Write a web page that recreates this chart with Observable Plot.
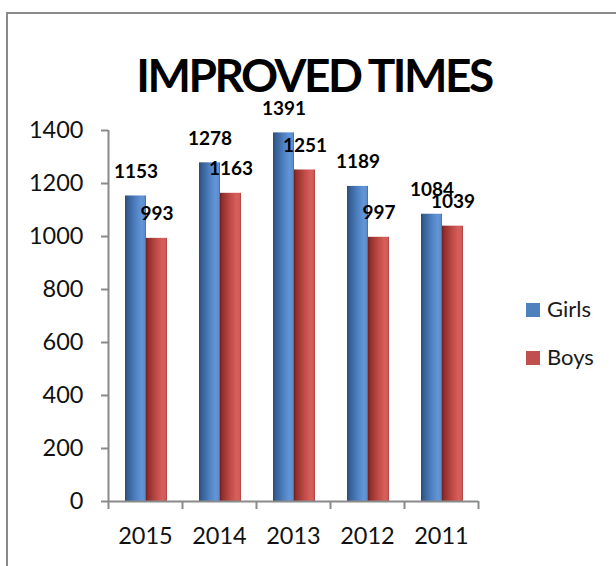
<!DOCTYPE html>
<html>
<head>
<meta charset="utf-8">
<script src="https://cdn.jsdelivr.net/npm/d3@7"></script>
<script src="https://cdn.jsdelivr.net/npm/@observablehq/plot@0.6"></script>
<style>
  html, body { margin: 0; padding: 0; background: #fff; width: 616px; height: 566px; overflow: hidden; }
  #frame { position: absolute; left: 6px; top: 12px; width: 700px; height: 700px; border-left: 2px solid #8a8a8a; border-top: 2px solid #8a8a8a; }
  #title { position: absolute; left: 0; width: 628px; top: 52px; text-align: center; font-family: Lato, sans-serif; font-weight: 700; font-size: 46px; line-height: 46px; color: #000; letter-spacing: -2.5px; white-space: nowrap; }
  #chart { position: absolute; left: 0; top: 95px; }
  .leg { position: absolute; left: 526px; font-family: Lato, sans-serif; font-size: 22px; line-height: 22px; color: #1a1a1a; white-space: nowrap; }
  .leg .sw { position: absolute; left: 0; width: 14px; height: 14px; }
  .leg .lb { position: absolute; left: 21px; }
  svg [aria-label="y-axis tick"], svg [aria-label="x-axis tick"] { stroke: #8a8a8a; stroke-width: 2; }
</style>
</head>
<body>
<div id="frame"></div>
<div id="title">IMPROVED TIMES</div>
<div id="chart"></div>
<div id="legend"></div>
<script>
const years = ["2015", "2014", "2013", "2012", "2011"];
const girls = [1153, 1278, 1391, 1189, 1084];
const boys = [993, 1163, 1251, 997, 1039];
const seriesNames = ["Girls", "Boys"];
const seriesColors = ["#4f81bd", "#c0504d"];
const yTicks = [0, 200, 400, 600, 800, 1000, 1200, 1400];

const girlsData = years.map((y, i) => ({year: y, value: girls[i]}));
const boysData = years.map((y, i) => ({year: y, value: boys[i]}));

const band = 74, half = 37, barW = 21, lead = 17;
const axisColor = "#8a8a8a";

const plot = Plot.plot({
  width: 616,
  height: 471,
  marginLeft: 108,
  marginRight: 138,
  marginTop: 35,
  marginBottom: 65,
  style: {fontFamily: "Lato, sans-serif", fontSize: "23.5px", color: "#111", background: "transparent", overflow: "visible"},
  x: {domain: years, padding: 0, label: null, tickSize: 0, tickPadding: 26},
  y: {domain: [0, 1400], ticks: yTicks, label: null, tickSize: 7, tickPadding: 18, tickFormat: d => String(d)},
  marks: [
    Plot.barY(girlsData, {x: "year", y: "value", fill: "url(#gBlue)", insetLeft: lead, insetRight: band - lead - barW}),
    Plot.barY(boysData, {x: "year", y: "value", fill: "url(#gRed)", insetLeft: lead + barW, insetRight: band - lead - 2 * barW}),
    Plot.ruleY([0], {stroke: axisColor, strokeWidth: 2}),
    Plot.ruleX(years.slice(0, 1), {x: d => d, y1: 0, y2: 1400, dx: -half, stroke: axisColor, strokeWidth: 2}),
    Plot.ruleX(years, {x: d => d, y1: 0, y2: 0, dx: -half, insetBottom: -8, stroke: axisColor, strokeWidth: 2}),
    Plot.ruleX(years.slice(-1), {x: d => d, y1: 0, y2: 0, dx: half, insetBottom: -8, stroke: axisColor, strokeWidth: 2}),
    Plot.text(girlsData, {x: "year", y: "value", text: d => String(d.value), dx: lead + barW / 2 - half, dy: -18, lineAnchor: "bottom", fontWeight: "bold", fontSize: 19, fill: "#000"}),
    Plot.text(boysData, {x: "year", y: "value", text: d => String(d.value), dx: lead + barW * 1.5 - half, dy: -18, lineAnchor: "bottom", fontWeight: "bold", fontSize: 19, fill: "#000"})
  ]
});

// gradients for the Excel-like cylinder shading
const svg = d3.select(plot);
const defs = svg.insert("defs", ":first-child");
function grad(id, stops) {
  const g = defs.append("linearGradient").attr("id", id).attr("x1", "0").attr("x2", "1").attr("y1", "0").attr("y2", "0");
  stops.forEach(([o, c]) => g.append("stop").attr("offset", o).attr("stop-color", c));
}
grad("gBlue", [[0, "#2b4b78"], [0.12, "#355d92"], [0.5, "#4e80c2"], [0.8, "#6396d8"], [0.93, "#5c8dcc"], [1, "#3f6aa3"]]);
grad("gRed", [[0, "#74211f"], [0.12, "#92302d"], [0.5, "#c14b48"], [0.8, "#d8605c"], [0.93, "#d05a56"], [1, "#a7403d"]]);

document.getElementById("chart").appendChild(plot);

// legend
const legend = document.getElementById("legend");
const legTops = [298, 346];
seriesNames.forEach((name, i) => {
  const item = document.createElement("div");
  item.className = "leg";
  item.style.top = legTops[i] + "px";
  item.innerHTML = `<span class="sw" style="background:${seriesColors[i]};top:5px"></span><span class="lb">${name}</span>`;
  legend.appendChild(item);
});
</script>
</body>
</html>
